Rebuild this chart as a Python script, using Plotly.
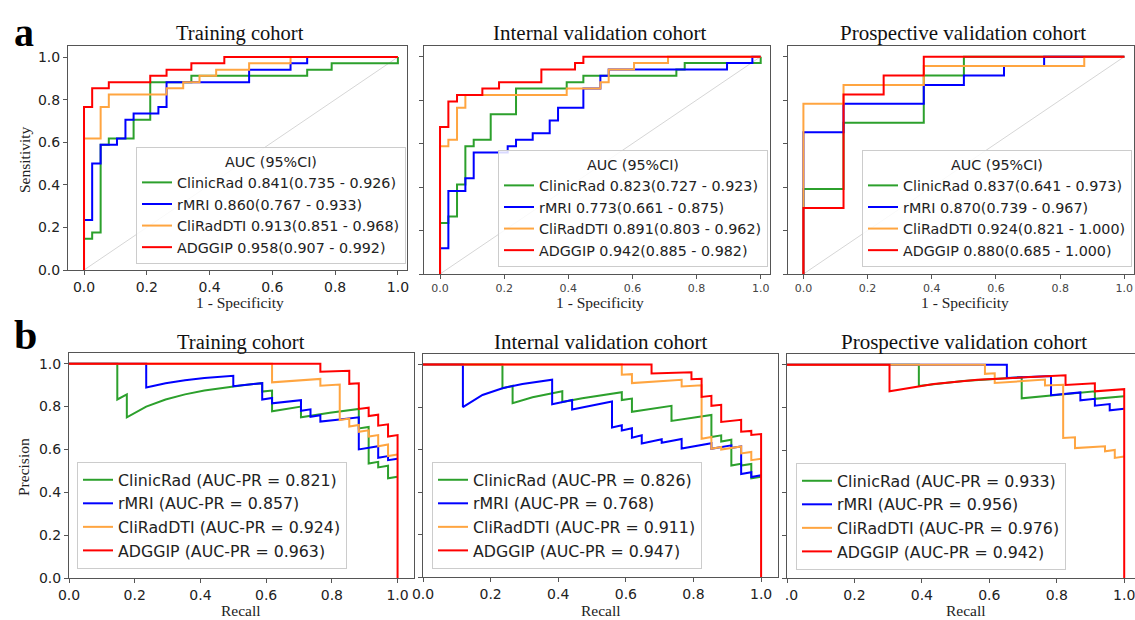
import plotly.graph_objects as go

# body margin is removed by a small post script, so the figure fills the window
OFF = 0
W, H = 1135, 620

# ---------------- data ----------------
models = ["ClinicRad", "rMRI", "CliRadDTI", "ADGGIP"]
colors = ["#2ca02c", "#0000ff", "#ffa540", "#ff0000"]

# ROC – training cohort
tr_fpr_clinic = [0, 0, 0.026, 0.053, 0.079, 0.158, 0.211, 0.342, 0.711, 0.789, 1.0]
tr_tpr_clinic = [0, 0.147, 0.176, 0.588, 0.618, 0.706, 0.882, 0.912, 0.941, 0.971, 1.0]
tr_fpr_rmri = [0, 0, 0.026, 0.053, 0.105, 0.132, 0.158, 0.237, 0.263, 0.526, 0.658, 0.711, 1.0]
tr_tpr_rmri = [0, 0.235, 0.5, 0.588, 0.618, 0.706, 0.735, 0.765, 0.882, 0.941, 0.971, 1.0, 1.0]
tr_fpr_cli = [0, 0, 0.053, 0.079, 0.263, 0.316, 0.368, 0.421, 0.526, 0.658, 1.0]
tr_tpr_cli = [0, 0.618, 0.765, 0.824, 0.853, 0.882, 0.912, 0.941, 0.971, 1.0, 1.0]
tr_fpr_adg = [0, 0, 0.026, 0.079, 0.211, 0.263, 0.342, 0.447, 1.0]
tr_tpr_adg = [0, 0.765, 0.853, 0.882, 0.912, 0.941, 0.971, 1.0, 1.0]

# ROC – internal validation cohort
iv_fpr_clinic = [0, 0, 0.026, 0.053, 0.079, 0.105, 0.158, 0.237, 0.395, 0.447, 0.737, 0.763, 1.0]
iv_tpr_clinic = [0, 0.235, 0.265, 0.412, 0.588, 0.618, 0.735, 0.853, 0.882, 0.912, 0.941, 0.971, 1.0]
iv_fpr_rmri = [0, 0, 0.026, 0.079, 0.105, 0.211, 0.237, 0.289, 0.342, 0.368, 0.447, 0.5, 0.526, 0.895, 0.974, 1.0]
iv_tpr_rmri = [0, 0.118, 0.382, 0.441, 0.559, 0.588, 0.618, 0.647, 0.706, 0.765, 0.853, 0.912, 0.941, 0.971, 1.0, 1.0]
iv_fpr_cli = [0, 0, 0.026, 0.053, 0.079, 0.395, 0.5, 0.526, 0.605, 0.711, 1.0]
iv_tpr_cli = [0, 0.588, 0.618, 0.765, 0.824, 0.853, 0.882, 0.941, 0.971, 1.0, 1.0]
iv_fpr_adg = [0, 0, 0.026, 0.053, 0.132, 0.184, 0.316, 0.421, 0.447, 1.0]
iv_tpr_adg = [0, 0.676, 0.794, 0.824, 0.853, 0.882, 0.941, 0.971, 1.0, 1.0]

# ROC – prospective validation cohort
pv_fpr_clinic = [0, 0, 0.125, 0.375, 0.5, 1.0]
pv_tpr_clinic = [0, 0.391, 0.696, 0.913, 1.0, 1.0]
pv_fpr_rmri = [0, 0, 0.125, 0.375, 0.5, 0.625, 0.75, 1.0]
pv_tpr_rmri = [0, 0.652, 0.783, 0.87, 0.913, 0.957, 1.0, 1.0]
pv_fpr_cli = [0, 0, 0.125, 0.375, 0.875, 1.0]
pv_tpr_cli = [0, 0.783, 0.87, 0.957, 1.0, 1.0]
pv_fpr_adg = [0, 0, 0.125, 0.25, 0.375, 1.0]
pv_tpr_adg = [0, 0.304, 0.826, 0.913, 1.0, 1.0]

# PR – training cohort
tr_rec_clinic = [0, 0.147, 0.147, 0.176, 0.176, 0.235, 0.294, 0.353, 0.412, 0.471, 0.529, 0.588, 0.588, 0.618, 0.618,
                 0.706, 0.706, 0.794, 0.882, 0.882, 0.912, 0.912, 0.941, 0.941, 0.971, 0.971, 1.0]
tr_prec_clinic = [1, 1, 0.833, 0.857, 0.75, 0.8, 0.833, 0.857, 0.875, 0.889, 0.9, 0.909, 0.87, 0.875, 0.778,
                  0.8, 0.75, 0.771, 0.789, 0.698, 0.705, 0.534, 0.542, 0.516, 0.524, 0.465, 0.472]
tr_rec_rmri = [0, 0.235, 0.235, 0.294, 0.353, 0.412, 0.5, 0.5, 0.588, 0.588, 0.618, 0.618, 0.706, 0.706, 0.735, 0.735,
               0.765, 0.765, 0.824, 0.882, 0.882, 0.941, 0.941, 0.971, 0.971, 1.0]
tr_prec_rmri = [1, 1, 0.889, 0.909, 0.923, 0.933, 0.944, 0.895, 0.909, 0.833, 0.84, 0.815, 0.83, 0.78, 0.787, 0.752,
                0.76, 0.73, 0.74, 0.75, 0.6, 0.615, 0.561, 0.569, 0.55, 0.557]
tr_rec_cli = [0, 0.618, 0.618, 0.765, 0.765, 0.824, 0.824, 0.853, 0.853, 0.882, 0.882, 0.912, 0.912, 0.941, 0.941,
              0.971, 0.971, 1.0]
tr_prec_cli = [1, 1, 0.913, 0.929, 0.897, 0.903, 0.737, 0.744, 0.707, 0.714, 0.682, 0.689, 0.66, 0.667, 0.615,
               0.623, 0.569, 0.576]
tr_rec_adg = [0, 0.765, 0.765, 0.853, 0.853, 0.882, 0.882, 0.912, 0.912, 0.941, 0.941, 0.971, 0.971, 1.0, 1.0]
tr_prec_adg = [1, 1, 0.963, 0.967, 0.906, 0.909, 0.789, 0.795, 0.756, 0.762, 0.711, 0.717, 0.66, 0.667, 0]

# PR – internal validation cohort
iv_rec_clinic = [0, 0.235, 0.235, 0.265, 0.265, 0.324, 0.412, 0.412, 0.471, 0.529, 0.588, 0.588, 0.618, 0.618,
                 0.735, 0.735, 0.853, 0.853, 0.882, 0.882, 0.912, 0.912, 0.941, 0.941, 0.971, 0.971, 1.0]
iv_prec_clinic = [1, 1, 0.889, 0.9, 0.818, 0.846, 0.875, 0.824, 0.842, 0.857, 0.87, 0.833, 0.84, 0.778,
                  0.806, 0.735, 0.763, 0.659, 0.667, 0.638, 0.646, 0.525, 0.533, 0.525, 0.532, 0.465, 0.472]
iv_rec_rmri = [0, 0.118, 0.118, 0.176, 0.235, 0.294, 0.382, 0.382, 0.441, 0.441, 0.559, 0.559, 0.588, 0.588, 0.618,
               0.618, 0.647, 0.647, 0.706, 0.706, 0.765, 0.765, 0.853, 0.853, 0.912, 0.912, 0.941, 0.941, 0.971,
               0.971, 1.0]
iv_prec_rmri = [1, 1, 0.8, 0.857, 0.889, 0.909, 0.929, 0.813, 0.833, 0.789, 0.826, 0.704, 0.714, 0.69, 0.7,
                0.656, 0.667, 0.629, 0.649, 0.632, 0.65, 0.605, 0.63, 0.604, 0.62, 0.608, 0.615, 0.485, 0.493,
                0.471, 0.479]
iv_rec_cli = [0, 0.588, 0.588, 0.618, 0.618, 0.765, 0.765, 0.824, 0.824, 0.853, 0.853, 0.882, 0.882, 0.941, 0.941,
              0.971, 0.971, 1.0]
iv_prec_cli = [1, 1, 0.952, 0.955, 0.913, 0.929, 0.897, 0.903, 0.651, 0.659, 0.604, 0.612, 0.6, 0.615, 0.582,
               0.589, 0.55, 0.557]
iv_rec_adg = [0, 0.676, 0.676, 0.794, 0.794, 0.824, 0.824, 0.853, 0.853, 0.882, 0.882, 0.941, 0.941, 0.971, 0.971,
              1.0, 1.0]
iv_prec_adg = [1, 1, 0.958, 0.964, 0.931, 0.933, 0.848, 0.853, 0.806, 0.811, 0.73, 0.74, 0.684, 0.688, 0.669,
               0.673, 0]

# PR – prospective validation cohort
pv_rec_clinic = [0, 0.391, 0.391, 0.522, 0.696, 0.696, 0.913, 0.913, 1.0]
pv_prec_clinic = [1, 1, 0.9, 0.923, 0.941, 0.842, 0.875, 0.84, 0.852]
pv_rec_rmri = [0, 0.652, 0.652, 0.783, 0.783, 0.87, 0.87, 0.913, 0.913, 0.957, 0.957, 1.0]
pv_prec_rmri = [1, 1, 0.938, 0.947, 0.857, 0.87, 0.833, 0.84, 0.808, 0.815, 0.786, 0.793]
pv_rec_cli = [0, 0.587, 0.587, 0.616, 0.616, 0.765, 0.765, 0.819, 0.819, 0.854, 0.854, 0.943, 0.943, 0.972, 0.972, 1.0]
pv_prec_cli = [1, 1, 0.957, 0.96, 0.914, 0.93, 0.902, 0.906, 0.656, 0.66, 0.609, 0.617, 0.594, 0.6, 0.563, 0.57]
pv_rec_adg = [0, 0.304, 0.304, 0.435, 0.565, 0.696, 0.826, 0.826, 0.913, 0.913, 1.0, 1.0]
pv_prec_adg = [1, 1, 0.875, 0.909, 0.929, 0.941, 0.95, 0.905, 0.913, 0.875, 0.885, 0]

roc_auc_labels = [
    ["0.841(0.735 - 0.926)", "0.860(0.767 - 0.933)", "0.913(0.851 - 0.968)", "0.958(0.907 - 0.992)"],
    ["0.823(0.727 - 0.923)", "0.773(0.661 - 0.875)", "0.891(0.803 - 0.962)", "0.942(0.885 - 0.982)"],
    ["0.837(0.641 - 0.973)", "0.870(0.739 - 0.967)", "0.924(0.821 - 1.000)", "0.880(0.685 - 1.000)"],
]
pr_auc_labels = [
    ["0.821", "0.857", "0.924", "0.963"],
    ["0.826", "0.768", "0.911", "0.947"],
    ["0.933", "0.956", "0.976", "0.942"],
]
cohorts = ["Training cohort", "Internal validation cohort", "Prospective validation cohort"]
tick_vals = [0, 0.2, 0.4, 0.6, 0.8, 1.0]
tick_text = ["0.0", "0.2", "0.4", "0.6", "0.8", "1.0"]

roc_sets = [
    [(tr_fpr_clinic, tr_tpr_clinic), (tr_fpr_rmri, tr_tpr_rmri), (tr_fpr_cli, tr_tpr_cli), (tr_fpr_adg, tr_tpr_adg)],
    [(iv_fpr_clinic, iv_tpr_clinic), (iv_fpr_rmri, iv_tpr_rmri), (iv_fpr_cli, iv_tpr_cli), (iv_fpr_adg, iv_tpr_adg)],
    [(pv_fpr_clinic, pv_tpr_clinic), (pv_fpr_rmri, pv_tpr_rmri), (pv_fpr_cli, pv_tpr_cli), (pv_fpr_adg, pv_tpr_adg)],
]
pr_sets = [
    [(tr_rec_clinic, tr_prec_clinic), (tr_rec_rmri, tr_prec_rmri), (tr_rec_cli, tr_prec_cli), (tr_rec_adg, tr_prec_adg)],
    [(iv_rec_clinic, iv_prec_clinic), (iv_rec_rmri, iv_prec_rmri), (iv_rec_cli, iv_prec_cli), (iv_rec_adg, iv_prec_adg)],
    [(pv_rec_clinic, pv_prec_clinic), (pv_rec_rmri, pv_prec_rmri), (pv_rec_cli, pv_prec_cli), (pv_rec_adg, pv_prec_adg)],
]

# ---------------- layout geometry (window pixels) ----------------
def px_x(p):
    return (p - OFF) / W


def px_y(p):
    return 1 - (p - OFF) / H


panels = [
    dict(x=(68, 407), y=(46, 270), xr=[-0.051, 1.029], yr=[0, 1.052]),
    dict(x=(424, 770), y=(46, 274), xr=[-0.05, 1.029], yr=[0, 1.049]),
    dict(x=(788, 1134), y=(46, 274), xr=[-0.048, 1.03], yr=[0, 1.049]),
    dict(x=(69, 414), y=(353, 578), xr=[0, 1.05], yr=[0, 1.05]),
    dict(x=(423, 778), y=(354, 577), xr=[0, 1.05], yr=[0, 1.05]),
    dict(x=(787, 1135), y=(354, 578), xr=[0, 1.032], yr=[0, 1.05]),
]

fig = go.Figure()
FONT = "DejaVu Sans"
SERIF = "Liberation Serif"

for i, pnl in enumerate(panels):
    n = i + 1
    xa = "x" if n == 1 else f"x{n}"
    ya = "y" if n == 1 else f"y{n}"
    lg = "legend" if n == 1 else f"legend{n}"
    col = i % 3
    if i < 3:
        fig.add_trace(go.Scatter(x=[0, 1], y=[0, 1], mode="lines", xaxis=xa, yaxis=ya,
                                 line=dict(color="#d6d6d6", width=1), showlegend=False, hoverinfo="skip"))
        for k in range(4):
            xs, ys = roc_sets[col][k]
            fig.add_trace(go.Scatter(x=xs, y=ys, mode="lines", xaxis=xa, yaxis=ya, legend=lg,
                                     line=dict(color=colors[k], width=2, shape="hv"),
                                     name=f"{models[k]} {roc_auc_labels[col][k]}"))
    else:
        for k in range(4):
            xs, ys = pr_sets[col][k]
            fig.add_trace(go.Scatter(x=xs, y=ys, mode="lines", xaxis=xa, yaxis=ya, legend=lg,
                                     line=dict(color=colors[k], width=2),
                                     name=f"{models[k]} (AUC-PR = {pr_auc_labels[col][k]})"))

layout = dict(width=W, height=H, margin=dict(l=0, r=0, t=0, b=0, pad=0, autoexpand=False),
              paper_bgcolor="white", plot_bgcolor="white", showlegend=True)

for i, pnl in enumerate(panels):
    n = i + 1
    xk = "xaxis" if n == 1 else f"xaxis{n}"
    yk = "yaxis" if n == 1 else f"yaxis{n}"
    small = i in (1, 2)
    xticktext = list(tick_text)
    if i == 5:
        xticktext[0] = "\u2007.0"
    x1 = min(pnl["x"][1], OFF + W)
    layout[xk] = dict(domain=[px_x(pnl["x"][0]), px_x(x1)], range=pnl["xr"],
                      anchor="y" if n == 1 else f"y{n}", automargin=False, ticklabeloverflow="allow",
                      showline=True, mirror=True, linecolor="#555", linewidth=1,
                      ticks="outside", ticklen=4, tickcolor="#555", showgrid=False, zeroline=False,
                      tickvals=tick_vals, ticktext=xticktext,
                      tickfont=dict(family=FONT, size=11 if small else 14, color="#444" if small else "#222"),
                      fixedrange=True)
    layout[yk] = dict(domain=[px_y(pnl["y"][1]), px_y(pnl["y"][0])], range=pnl["yr"],
                      anchor="x" if n == 1 else f"x{n}", automargin=False, ticklabeloverflow="allow",
                      showline=True, mirror=True, linecolor="#555", linewidth=1,
                      ticks="outside", ticklen=4, tickcolor="#555", showgrid=False, zeroline=False,
                      tickvals=tick_vals, ticktext=tick_text, showticklabels=(i in (0, 3)),
                      tickfont=dict(family=FONT, size=14, color="#222"), fixedrange=True)

legend_pos = [
    dict(x=406, y=264, xanchor="right", yanchor="bottom"),
    dict(x=768, y=267, xanchor="right", yanchor="bottom"),
    dict(x=1132, y=267, xanchor="right", yanchor="bottom"),
    dict(x=77, y=569, xanchor="left", yanchor="bottom"),
    dict(x=432, y=569, xanchor="left", yanchor="bottom"),
    dict(x=796, y=570, xanchor="left", yanchor="bottom"),
]
for i, lp in enumerate(legend_pos):
    n = i + 1
    key = "legend" if n == 1 else f"legend{n}"
    d = dict(x=px_x(lp["x"]), y=px_y(lp["y"]), xanchor=lp["xanchor"], yanchor=lp["yanchor"],
             bgcolor="rgba(255,255,255,0.85)", bordercolor="#cccccc", borderwidth=1,
             font=dict(family=FONT, size=14.3 if i < 3 else 15.8, color="#222"),
             itemwidth=30, tracegroupgap=0)
    if i < 3:
        d["title"] = dict(text="AUC (95%CI)", side="top center",
                          font=dict(family=FONT, size=14.3, color="#222"))
    layout[key] = d

annotations = []
title_x = [240, 600, 963]
label_x = [240, 600, 965]
title_size = [20.5, 21, 21]
for c in range(3):
    annotations.append(dict(text=cohorts[c], x=px_x(title_x[c]), y=px_y(33), xref="paper", yref="paper",
                            showarrow=False, xanchor="center", yanchor="middle",
                            font=dict(family=SERIF, size=title_size[c], color="#111")))
    annotations.append(dict(text=cohorts[c], x=px_x(title_x[c] + 1), y=px_y(342), xref="paper", yref="paper",
                            showarrow=False, xanchor="center", yanchor="middle",
                            font=dict(family=SERIF, size=title_size[c], color="#111")))
    annotations.append(dict(text="1 - Specificity", x=px_x(label_x[c]), y=px_y(302), xref="paper", yref="paper",
                            showarrow=False, xanchor="center", yanchor="middle",
                            font=dict(family=SERIF, size=15.5, color="#222")))
    annotations.append(dict(text="Recall", x=px_x(label_x[c] + 1), y=px_y(610), xref="paper", yref="paper",
                            showarrow=False, xanchor="center", yanchor="middle",
                            font=dict(family=SERIF, size=15.5, color="#222")))
annotations.append(dict(text="Sensitivity", x=px_x(24), y=px_y(160), xref="paper", yref="paper",
                        showarrow=False, textangle=-90, xanchor="center", yanchor="middle",
                        font=dict(family=SERIF, size=15.5, color="#222")))
annotations.append(dict(text="Precision", x=px_x(24), y=px_y(467), xref="paper", yref="paper",
                        showarrow=False, textangle=-90, xanchor="center", yanchor="middle",
                        font=dict(family=SERIF, size=15.5, color="#222")))
annotations.append(dict(text="<b>a</b>", x=px_x(24), y=px_y(8), xref="paper", yref="paper",
                        showarrow=False, xanchor="center", yanchor="top",
                        font=dict(family=SERIF, size=40, color="#000")))
annotations.append(dict(text="<b>b</b>", x=px_x(25), y=px_y(310), xref="paper", yref="paper",
                        showarrow=False, xanchor="center", yanchor="top",
                        font=dict(family=SERIF, size=42, color="#000")))
layout["annotations"] = annotations

fig.update_layout(**layout)
fig.write_html("out.html", config={"displayModeBar": False},
               post_script="document.body.style.margin='0';document.body.style.overflow='hidden';")
